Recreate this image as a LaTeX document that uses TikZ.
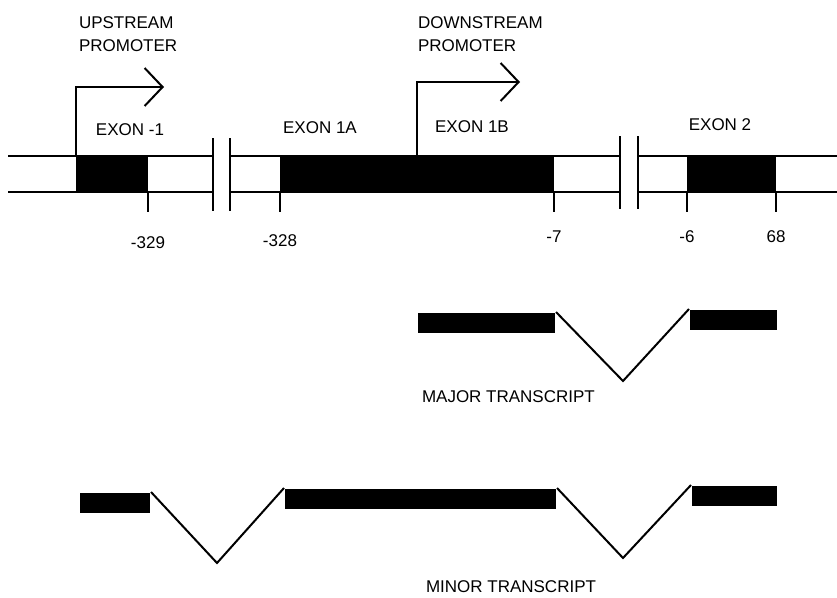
\documentclass[tikz,border=0pt]{standalone}
\usepackage{fontspec}
\setmainfont{Liberation Sans}
\usetikzlibrary{arrows.meta, positioning}

\begin{document}
\begin{tikzpicture}[
    x=1pt, y=-1pt, line width=2pt,
    exon/.style={rectangle, draw=black, fill=black, inner sep=0pt, minimum height=36pt},
    mrna/.style={rectangle, fill=black, inner sep=0pt, minimum height=20pt},
    txt/.style={font=\fontsize{17}{23}\selectfont, inner sep=0pt, align=left},
    promo/.style={-{Straight Barb[length=18pt, width=38pt, line width=2pt]}}
]
\useasboundingbox (0,0) rectangle (837,597);
% gene strands, with breaks
\draw (8,156) -- (213,156) (8,192) -- (213,192);
\draw (230,156) -- (620,156) (230,192) -- (620,192);
\draw (638,156) -- (837,156) (638,192) -- (837,192);
\draw (213,138) -- (213,211) (230,138) -- (230,211);
\draw (620,136) -- (620,209) (638,136) -- (638,209);
% coding parts
\node[exon, minimum width=70pt]  (exm1) at (112,174)   {};
\node[exon, minimum width=272pt] (ex1)  at (417,174)   {};
\node[exon, minimum width=87pt]  (ex2)  at (731.5,174) {};
\node[txt] (lexm1) at (130,130) {EXON -1};
\node[txt] (lex1a) at (320,128) {EXON 1A};
\node[txt] (lex1b) at (472,127) {EXON 1B};
\node[txt] (lex2)  at (720,125) {EXON 2};
% positions
\draw (exm1.south east) -- ++(0,19) node[txt, below=24pt] (p329) {-329};
\draw (ex1.south west)  -- ++(0,19) node[txt, below=22pt] (p328) {-328};
\draw (ex1.south east)  -- ++(0,19) node[txt, below=18pt] (p7)   {-7};
\draw (ex2.south west)  -- ++(0,19) node[txt, below=18pt] (p6)   {-6};
\draw (ex2.south east)  -- ++(0,19) node[txt, below=18pt] (p68)  {68};
% promoters
\node[txt, anchor=north west] (up)   at (78,16)  {UPSTREAM\\PROMOTER};
\node[txt, anchor=north west] (down) at (417,16) {DOWNSTREAM\\PROMOTER};
\draw[promo] (exm1.north west) |- (164,87);
\draw[promo] (ex1.north) |- (520,82);
% major transcript
\node[mrna, minimum width=137pt] (maj1) at (486.5,323) {};
\node[mrna, minimum width=87pt]  (maj2) at (733.5,320) {};
\coordinate (majv) at (623,381);
\draw (maj1.north east) -- (majv) -- (maj2.north west);
\node[txt, anchor=west] (lmaj) at (421,397) {MAJOR TRANSCRIPT};
% minor transcript
\node[mrna, minimum width=70pt]  (min1) at (115,503)   {};
\node[mrna, minimum width=271pt] (min2) at (420.5,499) {};
\node[mrna, minimum width=85pt]  (min3) at (734.5,496) {};
\coordinate (minv1) at (217,563);
\coordinate (minv2) at (623,558);
\draw (min1.north east) -- (minv1) -- (min2.north west);
\draw (min2.north east) -- (minv2) -- (min3.north west);
\node[txt, anchor=west] (lmin) at (425,587) {MINOR TRANSCRIPT};
\end{tikzpicture}
\end{document}
